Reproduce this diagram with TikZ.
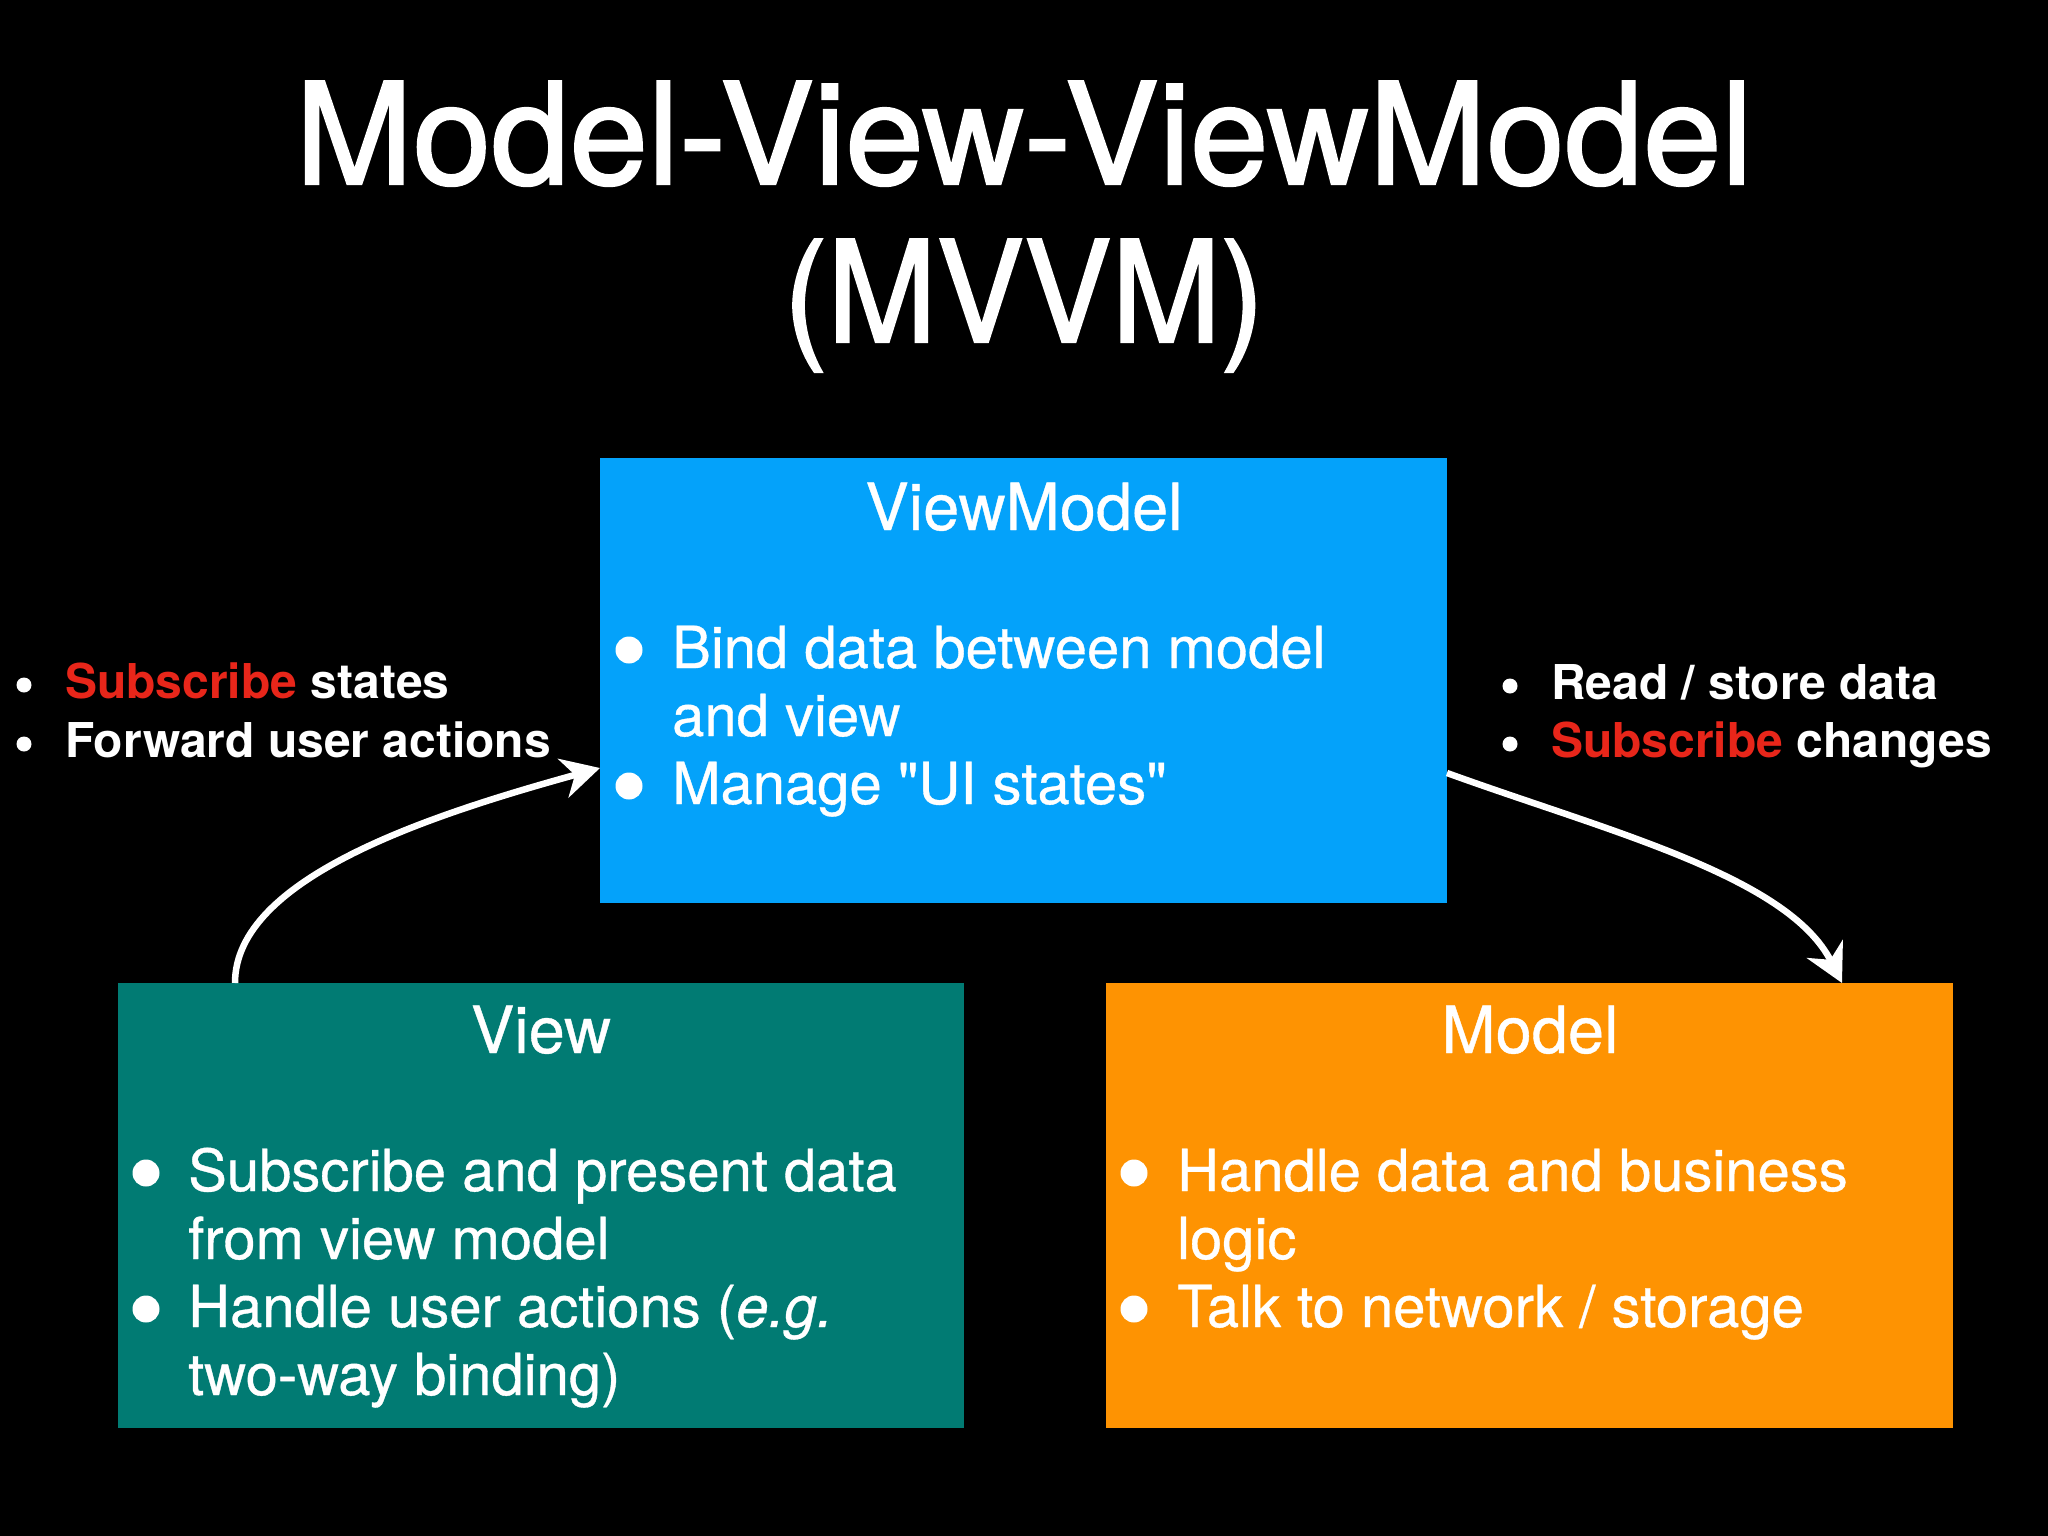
\documentclass[tikz,border=0pt]{standalone}
\usepackage{fontspec}
\setmainfont{TeX Gyre Heros}[Ligatures=TeXOff]
\newfontfamily\titlefont{TeX Gyre Heros}[Ligatures=TeXOff, FakeBold=1.6]
\newfontfamily\boxfont{TeX Gyre Heros}[Ligatures=TeXOff, FakeBold=0.6]
\usetikzlibrary{arrows.meta}
\definecolor{vmblue}{RGB}{4,162,250}
\definecolor{vteal}{RGB}{1,123,115}
\definecolor{morange}{RGB}{254,147,2}
\definecolor{sred}{RGB}{232,38,26}
\tikzset{
  box/.style={draw=none, rectangle, inner sep=0pt, anchor=north west},
  titletext/.style={text=white, inner sep=0pt, anchor=base, font=\titlefont\fontsize{141}{160}\selectfont},
  boxtitle/.style={text=white, inner sep=0pt, anchor=base, font=\boxfont\fontsize{65}{78}\selectfont},
  boxline/.style={text=white, inner sep=0pt, anchor=base west, font=\boxfont\fontsize{58}{68}\selectfont},
  sideline/.style={text=white, inner sep=0pt, anchor=base west, font=\fontsize{48}{58}\selectfont\bfseries},
  bigdot/.style={fill=white, draw=none, circle, inner sep=0pt, minimum size=27pt},
  smalldot/.style={fill=white, draw=none, circle, inner sep=0pt, minimum size=15pt},
  flow/.style={draw=white, line width=6.5pt, -{Stealth[length=38pt, width=40pt, inset=12pt]}}
}
\begin{document}
\begin{tikzpicture}[x=1pt, y=-1pt]
\fill[black] (0,0) rectangle (2048,1536);
\useasboundingbox (0,0) rectangle (2048,1536);

% title
\node[titletext] (t1) at (1024,184) {Model-View-ViewModel};
\node[titletext] (t2) at (1024,342) {\scalebox{0.93}[1]{(MVVM)}};

% boxes
\node[box, fill=vmblue, minimum width=847pt, minimum height=445pt] (vm) at (600,458) {};
\node[box, fill=vteal, minimum width=846pt, minimum height=445pt] (view) at (118,983) {};
\node[box, fill=morange, minimum width=847pt, minimum height=445pt] (model) at (1106,983) {};

% ViewModel content
\node[boxtitle] (vmt) at (1024,530) {ViewModel};
\node[bigdot] (vmd1) at (629,650) {};
\node[boxline] (vml1) at (672,668) {Bind data between model};
\node[boxline] (vml2) at (672,736) {and view};
\node[bigdot] (vmd2) at (629,786) {};
\node[boxline] (vml3) at (672,804) {Manage "UI states"};

% View content
\node[boxtitle] (vt) at (541,1053) {View};
\node[bigdot] (vd1) at (146,1173) {};
\node[boxline] (vl1) at (188,1191) {Subscribe and present data};
\node[boxline] (vl2) at (188,1259) {from view model};
\node[bigdot] (vd2) at (146,1309) {};
\node[boxline] (vl3) at (188,1327) {Handle user actions (\textit{e.g.}};
\node[boxline] (vl4) at (188,1395) {two-way binding)};

% Model content
\node[boxtitle] (mt) at (1530,1053) {Model};
\node[bigdot] (md1) at (1134,1173) {};
\node[boxline] (ml1) at (1177,1191) {Handle data and business};
\node[boxline] (ml2) at (1177,1259) {logic};
\node[bigdot] (md2) at (1134,1309) {};
\node[boxline] (ml3) at (1177,1327) {Talk to network / storage};

% side labels left
\node[smalldot] (ld1) at (24,685) {};
\node[sideline] (ll1) at (65,698) {\textcolor{sred}{Subscribe} states};
\node[smalldot] (ld2) at (24,744) {};
\node[sideline] (ll2) at (65,757) {Forward user actions};

% side labels right
\node[smalldot] (rd1) at (1510,686) {};
\node[sideline] (rl1) at (1551,699) {Read / store data};
\node[smalldot] (rd2) at (1510,744) {};
\node[sideline] (rl2) at (1551,757) {\textcolor{sred}{Subscribe} changes};

% connectors
\coordinate (a1s) at (235,983);
\coordinate (a1e) at (600,768);
\coordinate (a2s) at (1447,773);
\coordinate (a2e) at (1842,983);
\draw[flow] (a1s) .. controls (235,878) and (430,815) .. (a1e);
\draw[flow] (a2s) .. controls (1607,831) and (1788,876) .. (a2e);
\end{tikzpicture}
\end{document}
